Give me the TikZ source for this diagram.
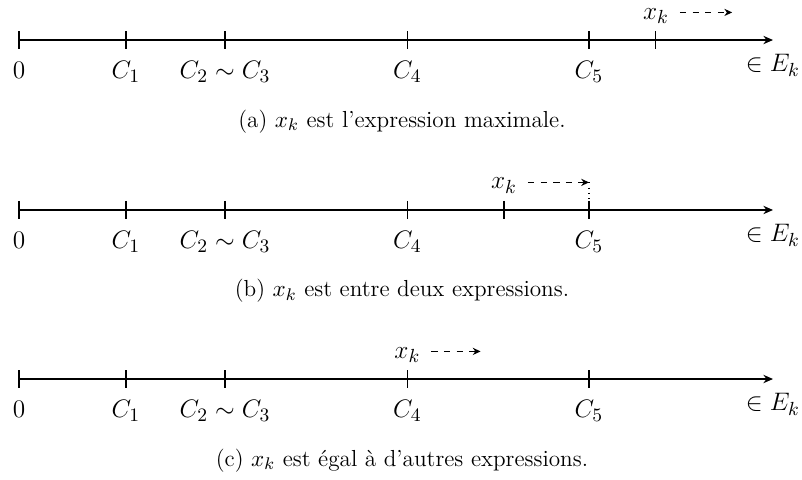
\documentclass[tikz,border=0pt]{standalone}
\usepackage{amsmath}
\usepackage{amssymb}
\usepackage{tikz}
\usetikzlibrary{arrows.meta, positioning, calc}

\begin{document}
\begin{tikzpicture}[
    axisline/.style={-{Stealth[length=1.6mm, width=1.4mm]}, line width=0.5pt},
    tickmark/.style={line width=0.5pt},
    val/.style={anchor=base, inner sep=0pt, font=\fontsize{12.6}{15}\selectfont},
    drift/.style={dashed, -{Stealth[length=1.3mm, width=1.2mm]}, line width=0.5pt},
    subcap/.style={anchor=base, inner sep=0pt, font=\fontsize{11}{13}\selectfont}]
  \useasboundingbox (0,0) rectangle (13.367,-8);
  \foreach \r/\y in {a/-0.667, b/-3.5, c/-6.317} {
    \coordinate (\r0) at (0.317,\y);
    \coordinate (\r end) at (12.883,\y);
    \draw[axisline] (\r0) -- (\r end);
    \node[val] (\r E) at ([yshift=-0.53cm]\r end) {$\in E_k$};
    \foreach \n/\x/\lab in {0/0.317/0, 1/2.1/C_1, 23/3.75/C_2 \sim C_3, 4/6.79/C_4, 5/9.817/C_5} {
      \coordinate (\r c\n) at (\x,\y);
      \draw[tickmark] ([yshift=0.15cm]\r c\n) -- ([yshift=-0.15cm]\r c\n);
      \node[val] (\r l\n) at ([yshift=-0.64cm]\r c\n) {$\lab$};
    }
  }
  \coordinate (ak) at (10.933,-0.667);
  \draw[tickmark] ([yshift=0.15cm]ak) -- ([yshift=-0.15cm]ak);
  \node[val] (axk) at ([yshift=0.35cm]ak) {$x_k$};
  \coordinate (ato) at ([shift={(1.27,0.46)}]ak);
  \draw[drift] ([xshift=5pt]axk.east |- ato) -- (ato);
  \node[subcap] (capa) at (6.7,-2.117) {(a) $x_k$ est l'expression maximale.};
  \coordinate (bk) at (8.4,-3.5);
  \draw[tickmark] ([yshift=0.15cm]bk) -- ([yshift=-0.15cm]bk);
  \node[val] (bxk) at ([yshift=0.35cm]bk) {$x_k$};
  \coordinate (bto) at ([yshift=0.46cm]bc5);
  \draw[drift] ([xshift=5pt]bxk.east |- bto) -- (bto);
  \draw[dotted, line width=0.5pt] (bto) -- ([yshift=0.15cm]bc5);
  \node[subcap] (capb) at (6.7,-4.95) {(b) $x_k$ est entre deux expressions.};
  \node[val] (cxk) at ([yshift=0.35cm]cc4) {$x_k$};
  \coordinate (cto) at ([shift={(1.22,0.46)}]cc4);
  \draw[drift] ([xshift=5pt]cxk.east |- cto) -- (cto);
  \node[subcap] (capc) at (6.7,-7.767) {(c) $x_k$ est égal à d'autres expressions.};
\end{tikzpicture}
\end{document}
